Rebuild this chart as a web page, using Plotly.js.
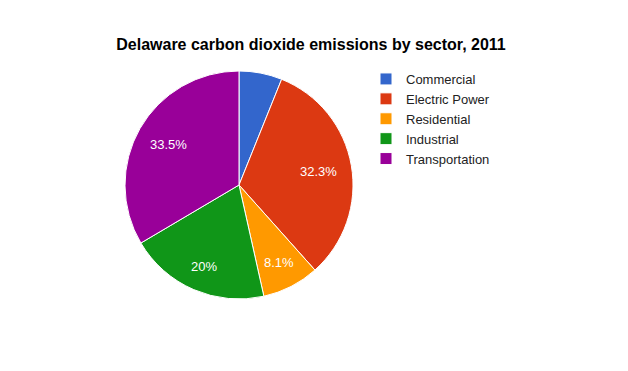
<!DOCTYPE html>
<html>
<head>
<meta charset="utf-8">
<script src="https://cdn.plot.ly/plotly-3.0.1.min.js"></script>
<style>html,body{margin:0;padding:0;background:#fff;}#chart{width:628px;height:371px;}</style>
</head>
<body>
<div id="chart"></div>
<script>
var categories = ['Commercial', 'Electric Power', 'Residential', 'Industrial', 'Transportation'];
var shares = [6.1, 32.3, 8.1, 20, 33.5];
var colors = ['#3366cc', '#dc3912', '#ff9900', '#109618', '#990099'];
var minLabelShare = 7;
var sliceText = shares.map(function (v) { return v >= minLabelShare ? v + '%' : ''; });

var W = 628, H = 371;
var FONT = 'Liberation Sans, Arial, sans-serif';
var pieDomain = { x: [125 / W, 353 / W], y: [72 / H, 300 / H] };

var trace = {
  type: 'pie',
  labels: categories,
  values: shares,
  textinfo: 'none',
  textposition: 'none',
  sort: false,
  direction: 'clockwise',
  rotation: 0,
  marker: { colors: colors, line: { color: '#ffffff', width: 1 } },
  hoverinfo: 'label+percent',
  domain: pieDomain
};

// Slice labels placed Google-Charts style along each slice's mid angle
var cx = (pieDomain.x[0] + pieDomain.x[1]) / 2 * W;
var cy = (pieDomain.y[0] + pieDomain.y[1]) / 2 * H;
var r = Math.min((pieDomain.x[1] - pieDomain.x[0]) * W, (pieDomain.y[1] - pieDomain.y[0]) * H) / 2;
var ctx = document.createElement('canvas').getContext('2d');
ctx.font = '13px "Liberation Sans", Arial, sans-serif';
var total = shares.reduce(function (a, b) { return a + b; }, 0);
var cum = 0;
var annotations = [];
shares.forEach(function (v, i) {
  var mid = (cum + v / 2) / total * 2 * Math.PI;
  cum += v;
  if (!sliceText[i]) return;
  var ux = Math.sin(mid), uy = Math.cos(mid);
  var hw = ctx.measureText(sliceText[i]).width / 2, hh = 6.5;
  var a = hw * (ux >= 0 ? 1 : -1), b = hh * (uy >= 0 ? 1 : -1);
  var R0 = 0.88 * r;
  var p = ux * a + uy * b;
  var d = -p + Math.sqrt(p * p - (a * a + b * b - R0 * R0));
  annotations.push({
    xref: 'paper', yref: 'paper',
    x: (cx + d * ux) / W, y: (cy + d * uy) / H,
    xanchor: 'center', yanchor: 'middle',
    text: sliceText[i], showarrow: false,
    font: { family: FONT, size: 13, color: '#ffffff' }
  });
});

var layout = {
  width: W,
  height: H,
  margin: { l: 0, r: 0, t: 0, b: 0 },
  paper_bgcolor: '#ffffff',
  showlegend: true,
  annotations: annotations,
  title: {
    text: '<b>Delaware carbon dioxide emissions by sector, 2011</b>',
    font: { family: FONT, size: 16, color: '#000000' },
    x: 311 / W, xanchor: 'center',
    y: 1 - 44 / H, yanchor: 'middle'
  },
  legend: {
    x: 366 / W, xanchor: 'left',
    y: 1 - 64 / H, yanchor: 'top',
    font: { family: FONT, size: 13, color: '#222222' },
    bgcolor: 'rgba(0,0,0,0)'
  }
};

Plotly.newPlot('chart', [trace], layout, { displayModeBar: false, staticPlot: true });
</script>
</body>
</html>
